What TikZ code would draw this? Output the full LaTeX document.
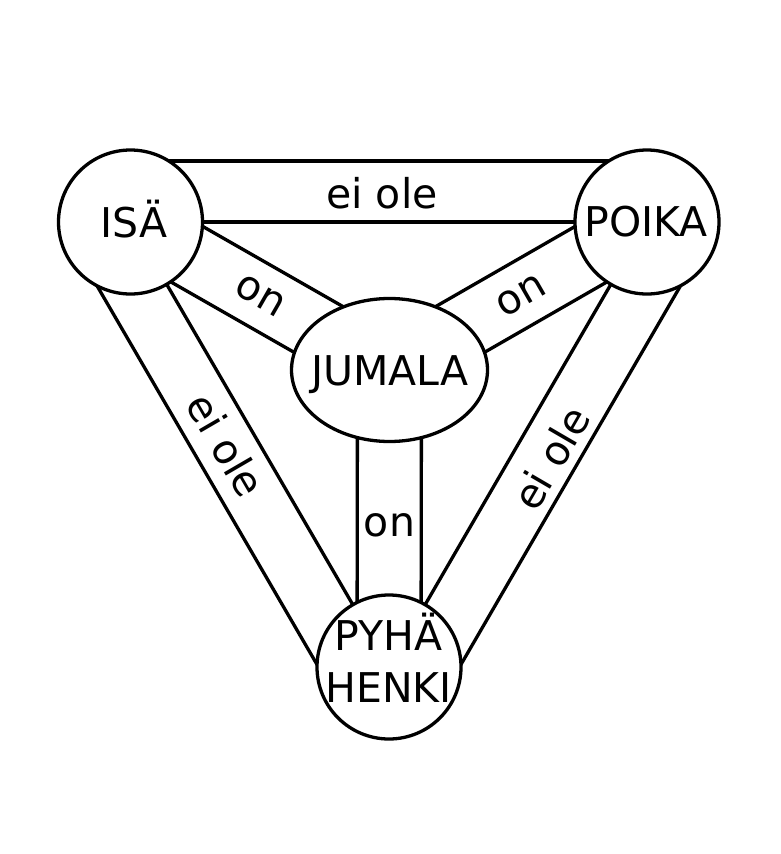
\documentclass[tikz,border=0pt]{standalone}
\usepackage{fontspec}
\setmainfont{DejaVu Sans}
\usetikzlibrary{calc,shapes.geometric,backgrounds}
\begin{document}
\begin{tikzpicture}[x=1pt,y=-1pt,
  band/.style={line width=3.3pt},
  disc/.style={circle,draw,line width=3.3pt,fill=white,minimum size=144pt,inner sep=0pt},
  oval/.style={ellipse,draw,line width=3.3pt,fill=white,minimum width=196pt,minimum height=143pt,inner sep=0pt},
  txt/.style={font=\fontsize{41}{52}\selectfont,inner sep=0pt},
]
\useasboundingbox (0,0) rectangle (780,854);
% shapes
\node[disc] (isa) at (130.5,222) {};
\node[disc] (poika) at (647,222) {};
\node[disc] (pyha) at (389,667) {};
\node[oval] (jum) at (389.5,370) {};
% texts
\node[txt,anchor=base] (isaT) at (134,237) {ISÄ};
\node[txt,anchor=base] (poikaT) at (646,236) {POIKA};
\node[txt,anchor=base] (jumT) at (390,385) {JUMALA};
\node[txt,anchor=base] (pyhaT) at (388.5,650) {PYHÄ};
\node[txt,anchor=base] (henkiT) at (388.5,702) {HENKI};
% labels
\node[txt] (l1) at (382,193.5) {ei ole};
\node[txt,rotate=-59.8] (l2) at (226,445) {ei ole};
\node[txt,rotate=59.8] (l3) at (551,458) {ei ole};
\node[txt,rotate=-29.9] (l4) at (260,296) {on};
\node[txt,rotate=29.9] (l5) at (521,296) {on};
\node[txt] (l6) at (389.5,525) {on};
\begin{pgfonlayer}{background}
% outer bands
\draw[band] (isa.center) -- (poika.center);
\draw[band] ($(isa.center)!61pt!90:(poika.center)$) -- ($(poika.center)!61pt!-90:(isa.center)$);
\draw[band] (isa.center) -- (pyha.center);
\draw[band] ($(isa.center)!61pt!-90:(pyha.center)$) -- ($(pyha.center)!61pt!90:(isa.center)$);
\draw[band] (poika.center) -- (pyha.center);
\draw[band] ($(poika.center)!61pt!90:(pyha.center)$) -- ($(pyha.center)!61pt!-90:(poika.center)$);
% spokes
\foreach \X in {isa,poika,pyha}{
  \draw[band] ($(\X.center)!32pt!90:(jum.center)$) -- ($(jum.center)!32pt!-90:(\X.center)$);
  \draw[band] ($(\X.center)!32pt!-90:(jum.center)$) -- ($(jum.center)!32pt!90:(\X.center)$);
}
\end{pgfonlayer}
\end{tikzpicture}
\end{document}
